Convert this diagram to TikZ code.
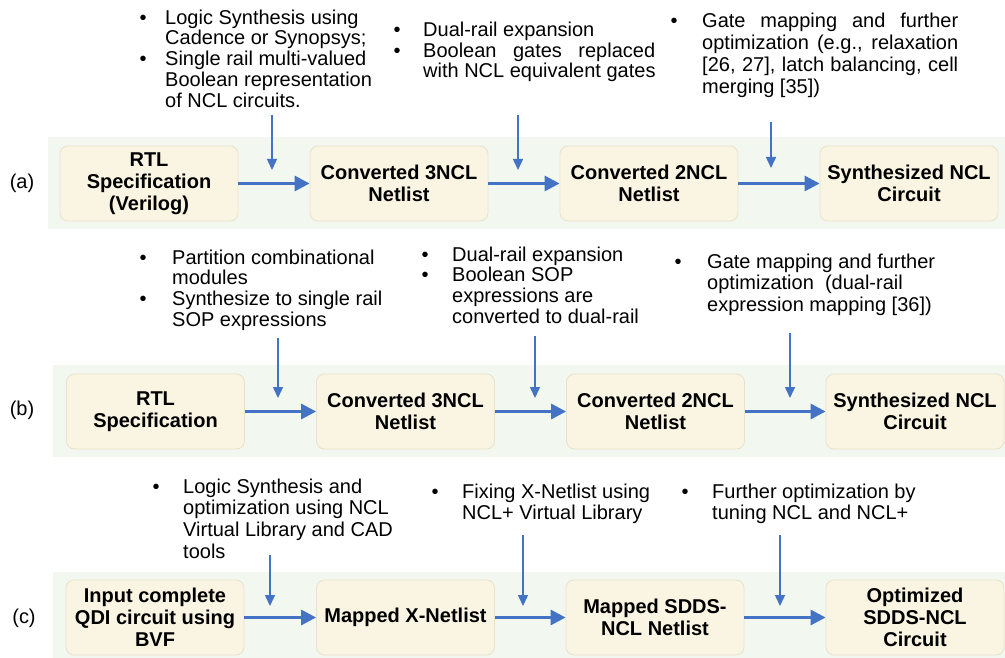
\documentclass[tikz,border=0pt]{standalone}
\usepackage{fontspec}
\setmainfont{Liberation Sans}
\usetikzlibrary{arrows.meta}
\definecolor{bandcol}{HTML}{F2F7F0}
\definecolor{boxfill}{HTML}{FAF5E2}
\definecolor{boxline}{HTML}{E8E2CA}
\definecolor{arrcol}{HTML}{4472C4}
\newcommand{\jl}[2]{\makebox[#1][s]{#2}}
\tikzset{
  stage/.style={draw=boxline, fill=boxfill, rounded corners=8pt, line width=0.8pt,
    minimum width=178pt, minimum height=75pt, align=center, inner sep=0pt,
    font=\fontsize{20}{22}\selectfont\bfseries},
  flow/.style={draw=arrcol, line width=3pt, -{Triangle[length=15pt,width=15pt]}},
  feed/.style={draw=arrcol, line width=1.5pt, -{Triangle[length=11pt,width=10pt]}},
  bandbg/.style={fill=bandcol, draw=none},
  rowlabel/.style={font=\fontsize{20}{22}\selectfont, inner sep=0pt},
  note/.style={anchor=north west, inner sep=0pt, align=left},
}
\begin{document}
\begin{tikzpicture}[x=1pt,y=-1pt]
\useasboundingbox (0,0) rectangle (1005,658);
% bands
\fill[bandbg] (48,137) rectangle (1005,229);
\fill[bandbg] (53,365) rectangle (1005,457);
\fill[bandbg] (53,572) rectangle (1005,658);
% row labels
\node[rowlabel] (la) at (22,183) {(a)};
\node[rowlabel] (lb) at (22,410) {(b)};
\node[rowlabel] (lc) at (24,618) {(c)};
% row (a)
\node[stage] (a1) at (149,183.5) {RTL\\Specification\\(Verilog)};
\node[stage] (a2) at (399,183.5) {Converted 3NCL\\Netlist};
\node[stage] (a3) at (649,183.5) {Converted 2NCL\\Netlist};
\node[stage] (a4) at (909,183.5) {Synthesized NCL\\Circuit};
\draw[flow] (a1) -- (a2);
\draw[flow] (a2) -- (a3);
\draw[flow] (a3) -- (a4);
% row (b)
\node[stage] (b1) at (155.5,411.5) {RTL\\Specification};
\node[stage] (b2) at (405.5,411.5) {Converted 3NCL\\Netlist};
\node[stage] (b3) at (655.5,411.5) {Converted 2NCL\\Netlist};
\node[stage] (b4) at (915,411.5) {Synthesized NCL\\Circuit};
\draw[flow] (b1) -- (b2);
\draw[flow] (b2) -- (b3);
\draw[flow] (b3) -- (b4);
% row (c)
\node[stage] (c1) at (155,617.5) {Input complete\\QDI circuit using\\BVF};
\node[stage] (c2) at (405.5,617.5) {Mapped X-Netlist};
\node[stage] (c3) at (655,617.5) {Mapped SDDS-\\NCL Netlist};
\node[stage] (c4) at (915,617.5) {Optimized\\SDDS-NCL\\Circuit};
\draw[flow] (c1) -- (c2);
\draw[flow] (c2) -- (c3);
\draw[flow] (c3) -- (c4);
% feed arrows
\coordinate (fa1s) at (272,115); \coordinate (fa1e) at (272,170);
\coordinate (fa2s) at (518,115); \coordinate (fa2e) at (518,170);
\coordinate (fa3s) at (771,122); \coordinate (fa3e) at (771,168);
\coordinate (fb1s) at (278,338); \coordinate (fb1e) at (278,398);
\coordinate (fb2s) at (535,336); \coordinate (fb2e) at (535,398);
\coordinate (fb3s) at (790,333); \coordinate (fb3e) at (790,398);
\coordinate (fc1s) at (270,555); \coordinate (fc1e) at (270,606);
\coordinate (fc2s) at (523,535); \coordinate (fc2e) at (523,606);
\coordinate (fc3s) at (780,535); \coordinate (fc3e) at (780,606);
\foreach \p in {fa1,fa2,fa3,fb1,fb2,fb3,fc1,fc2,fc3}
  \draw[feed] (\p s) -- (\p e);
% notes
\node[note] (na1) at (139.5,9.4) {\fontsize{20}{20.8}\selectfont
 \begin{tabular}{@{}l@{\hspace{18.5pt}}l@{}}
 \textbullet & Logic Synthesis using\\
  & Cadence or Synopsys;\\
 \textbullet & Single rail multi-valued\\
  & Boolean representation\\
  & of NCL circuits.
 \end{tabular}};
\node[note] (na2) at (393.5,22) {\fontsize{20}{20}\selectfont
 \begin{tabular}{@{}l@{\hspace{22.5pt}}l@{}}
 \textbullet & Dual-rail expansion\\
 \textbullet & \jl{232pt}{Boolean gates replaced}\\
  & with NCL equivalent gates
 \end{tabular}};
\node[note] (na3) at (670.5,11.6) {\fontsize{20}{22}\selectfont
 \begin{tabular}{@{}l@{\hspace{24.5pt}}l@{}}
 \textbullet & \jl{256pt}{Gate mapping and further}\\
  & \jl{256pt}{optimization (e.g., relaxation}\\
  & \jl{256pt}{[26, 27], latch balancing, cell}\\
  & merging [35])
 \end{tabular}};
\node[note] (nb1) at (139.5,249.5) {\fontsize{20}{20.7}\selectfont
 \begin{tabular}{@{}l@{\hspace{25.5pt}}l@{}}
 \textbullet & Partition combinational\\
  & modules\\
 \textbullet & Synthesize to single rail\\
  & SOP expressions
 \end{tabular}};
\node[note] (nb2) at (421.5,246.5) {\fontsize{20}{20.7}\selectfont
 \begin{tabular}{@{}l@{\hspace{23.5pt}}l@{}}
 \textbullet & Dual-rail expansion\\
 \textbullet & Boolean SOP\\
  & expressions are\\
  & converted to dual-rail
 \end{tabular}};
\node[note] (nb3) at (674.5,253) {\fontsize{20}{21.5}\selectfont
 \begin{tabular}{@{}l@{\hspace{25.5pt}}l@{}}
 \textbullet & Gate mapping and further\\
  & optimization\ \ (dual-rail\\
  & expression mapping [36])
 \end{tabular}};
\node[note] (nc1) at (152.5,477.8) {\fontsize{20}{21.7}\selectfont
 \begin{tabular}{@{}l@{\hspace{23.5pt}}l@{}}
 \textbullet & Logic Synthesis and\\
  & optimization using NCL\\
  & Virtual Library and CAD\\
  & tools
 \end{tabular}};
\node[note] (nc2) at (431.5,484) {\fontsize{20}{20}\selectfont
 \begin{tabular}{@{}l@{\hspace{23.5pt}}l@{}}
 \textbullet & Fixing X-Netlist using\\
  & NCL+ Virtual Library
 \end{tabular}};
\node[note] (nc3) at (681.5,484) {\fontsize{20}{20}\selectfont
 \begin{tabular}{@{}l@{\hspace{23.5pt}}l@{}}
 \textbullet & Further optimization by\\
  & tuning NCL and NCL+
 \end{tabular}};
\end{tikzpicture}
\end{document}
